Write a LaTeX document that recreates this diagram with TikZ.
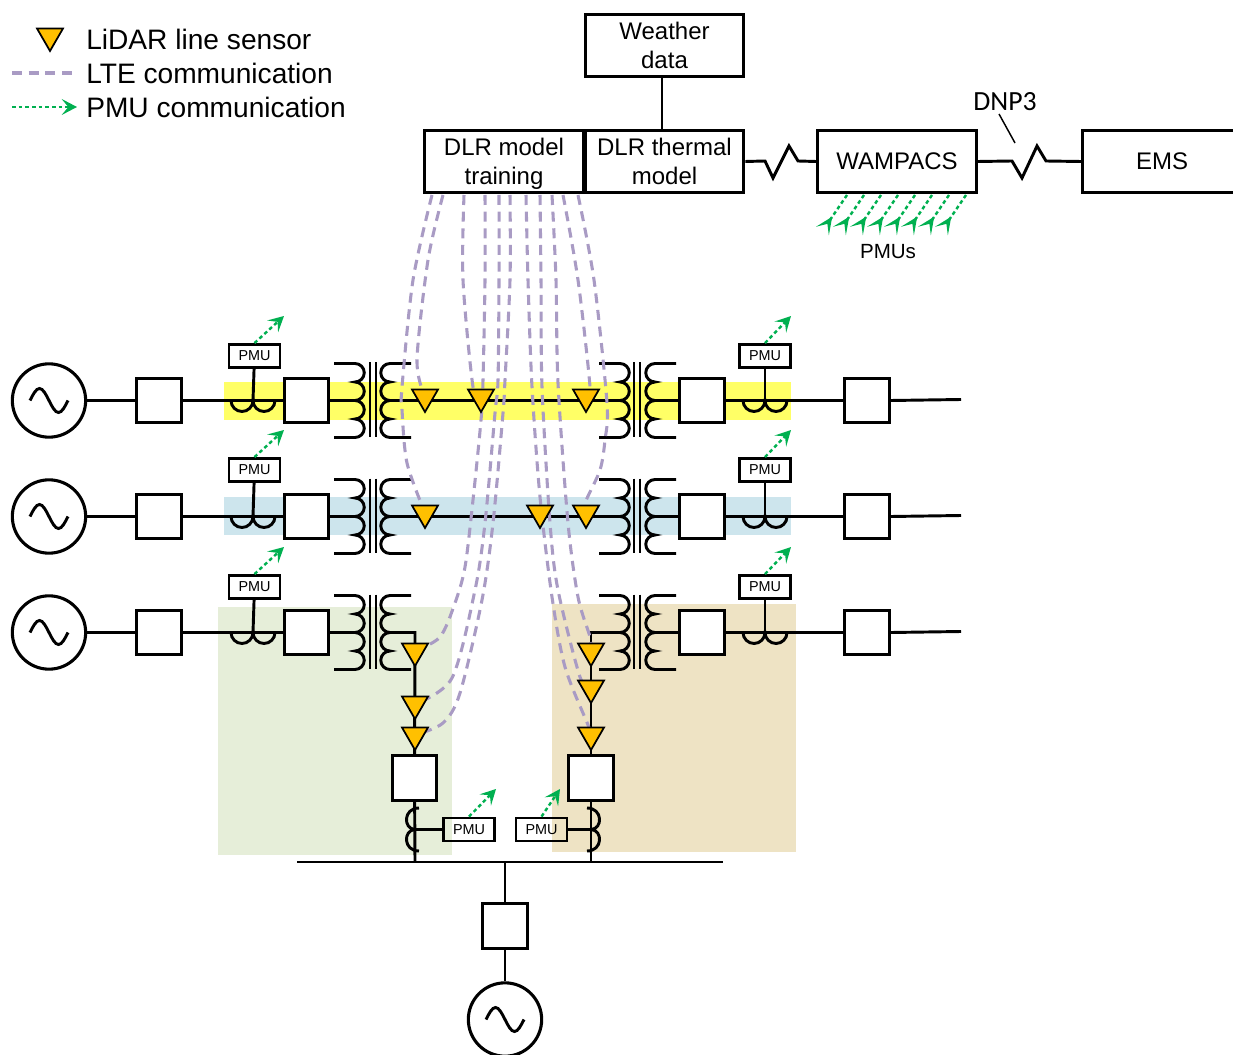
\documentclass[tikz,border=0pt]{standalone}
\usepackage{fontspec}
\setmainfont{Liberation Sans}
\newfontfamily\dnpfont{Carlito}
\usetikzlibrary{arrows.meta,shapes.geometric}
\definecolor{ltecol}{HTML}{A99BC4}
\definecolor{pmucol}{HTML}{00B050}
\definecolor{sensorcol}{HTML}{FFC000}
\definecolor{rowone}{HTML}{FFFF66}
\definecolor{rowtwo}{HTML}{CDE5ED}
\definecolor{areaone}{HTML}{E6EED9}
\definecolor{areatwo}{HTML}{EEE3C4}
\pgfdeclarelayer{sensorlayer}
\pgfsetlayers{main,sensorlayer}
\tikzset{
  wire/.style={line width=2.2bp,black},
  brk/.style={draw,line width=2.3bp,fill=white,minimum size=33.5bp,inner sep=0pt},
  gen/.style={circle,draw,line width=2.3bp,fill=white,minimum size=55bp,inner sep=0pt},
  ctl/.style={draw,line width=2.2bp,minimum width=119bp,minimum height=46.5bp,inner sep=0pt,align=center,font=\fontsize{18bp}{21.5bp}\selectfont},
  pmubox/.style={draw,line width=1.9bp,minimum width=38bp,minimum height=17.5bp,inner sep=0pt,font=\fontsize{10.8bp}{12bp}\selectfont},
  sensor/.style={regular polygon,regular polygon sides=3,shape border rotate=180,draw,line width=1.3bp,fill=sensorcol,minimum size=22.5bp,inner sep=0pt},
  ltelink/.style={ltecol,line width=2.3bp,dash pattern=on 7.5bp off 5bp},
  pmulink/.style={pmucol,line width=1.8bp,dash pattern=on 2.8bp off 2.2bp},
  pmuto/.style={pmulink,-{Stealth[length=11.5bp,width=12bp,inset=5bp]}},
  pmufrom/.style={pmulink,-{Stealth[reversed,length=13bp,width=11.5bp,inset=6.5bp]}},
  leg/.style={anchor=west,inner sep=0pt,font=\fontsize{21.1bp}{24bp}\selectfont},
  coil/.pic={\draw[wire] (-21,-37) -- (0,-37)
    arc[start angle=-90,end angle=90,radius=9.25]
    arc[start angle=-90,end angle=90,radius=9.25]
    arc[start angle=-90,end angle=90,radius=9.25]
    arc[start angle=-90,end angle=90,radius=9.25] -- (-21,37);},
  ctarc/.pic={\draw[wire] (-22,0) arc[start angle=180,end angle=0,radius=11]
    arc[start angle=180,end angle=0,radius=11];}
}
\begin{document}
\begin{tikzpicture}[x=0.75bp,y=-0.75bp]
  \useasboundingbox (0,0) rectangle (1233,1055);
  \clip (0,0) rectangle (1233,1055);
  % highlighted areas
  \fill[rowone] (224,382) rectangle (791,420);
  \fill[rowtwo] (224,497) rectangle (791,535);
  \fill[areaone] (218,607) rectangle (452,855);
  \fill[areatwo] (552,604) rectangle (796,852);
  % legend
  \node[sensor] (legsensor) at (50,36) {};
  \node[leg] (legone) at (86,39) {LiDAR line sensor};
  \node[leg] (legtwo) at (86,73) {LTE communication};
  \node[leg] (legthree) at (86,107) {PMU communication};
  \coordinate (ltea) at (12,73);
  \coordinate (lteb) at (76,73);
  \coordinate (pmua) at (12,107);
  \coordinate (pmub) at (77,107);
  \draw[ltelink] (ltea) -- (lteb);
  \draw[pmuto] (pmua) -- (pmub);
  % control room
  \node[ctl,minimum height=47bp] (weather) at (664.5,45.5) {Weather\\data};
  \node[ctl] (train) at (504,161.5) {DLR model\\\smash{training}};
  \node[ctl] (thermal) at (664.5,161.5) {DLR thermal\\model};
  \node[ctl] (wampacs) at (897,161.5) {WAMPACS};
  \node[ctl,minimum width=130bp,anchor=west] (ems) at (1081,161.5) {};
  \node[font=\fontsize{18bp}{21bp}\selectfont] (emstext) at (1162,161) {EMS};
  \draw[wire] (weather.south -| 662,0) -- (thermal.north -| 662,0);
  \draw[wire] (thermal.east) -- (765,161) -- (773,178) -- (789,146) -- (798,161) -- (wampacs.west);
  \draw[wire] (wampacs.east) -- (1012,161) -- (1022,178) -- (1037,146) -- (1046,161) -- (ems.west);
  \node[font=\dnpfont\fontsize{20.8bp}{24bp}\selectfont] (dnp) at (1005,102) {DNP3};
  \coordinate (dnptick) at (1015,143);
  \draw[line width=1.1bp] (999,114) -- (dnptick);
  \node[font=\fontsize{15.4bp}{18bp}\selectfont] (pmus) at (888,252) {PMUs};
  % PMU arrows into WAMPACS
  \foreach \x [evaluate=\x as \e using \x-24.5] in {847,864,881,898,915,932,949,966} {
    \coordinate (wamp\x) at (\x,195);
    \coordinate (far\x) at (\e,231);
    \draw[pmufrom] (wamp\x) -- (far\x);
  }
  % three lines
  \foreach \r/\y/\p in {1/400.5/356,2/516.5/470,3/632.5/587} {
    \node[gen] (gen\r) at (49,\y) {};
    \node[brk] (brka\r) at (159,\y) {};
    \node[brk] (brkb\r) at (306.5,\y) {};
    \node[brk] (brkc\r) at (702,\y) {};
    \node[brk] (brkd\r) at (867,\y) {};
    \node[pmubox] (pmul\r) at (254.5,\p) {PMU};
    \node[pmubox] (pmur\r) at (765,\p) {PMU};
    \coordinate (tfa\r) at (355,\y);
    \coordinate (tfb\r) at (390,\y);
    \coordinate (tfc\r) at (620,\y);
    \coordinate (tfd\r) at (655,\y);
    \coordinate (ctl\r) at (253,\y);
    \coordinate (ctr\r) at (765,\y);
    \coordinate (lineend\r) at (961,\y-1);
    \draw[wire] (gen\r) -- (brka\r);
    \draw[wire] (brka\r) -- (brkb\r);
    \draw[wire] (brkb\r) -- (tfa\r);
    \draw[wire] (tfd\r) -- (brkc\r);
    \draw[wire] (brkc\r) -- (brkd\r);
    \draw[wire] (brkd\r.east) -- (lineend\r);
    \draw[wire] (gen\r.center) ++(-19,0) sin ++(9.5,-12) cos ++(9.5,12) sin ++(9.5,12) cos ++(9.5,-12);
    \draw[wire] (pmul\r) -- (ctl\r);
    \draw[wire] (pmur\r) -- (ctr\r);
    \pic at (ctl\r) {ctarc};
    \pic at (ctr\r) {ctarc};
    \pic at (tfa\r) {coil};
    \pic[xscale=-1] at (tfb\r) {coil};
    \pic at (tfc\r) {coil};
    \pic[xscale=-1] at (tfd\r) {coil};
    \draw[wire,line width=1.7bp] (370,\y-38) -- (370,\y+36);
    \draw[wire,line width=1.7bp] (376,\y-38) -- (376,\y+36);
    \draw[wire,line width=1.7bp] (634,\y-38) -- (634,\y+36);
    \draw[wire,line width=1.7bp] (640,\y-38) -- (640,\y+36);
    \coordinate (headl\r) at (284,\p-40);
    \coordinate (headr\r) at (791,\p-40);
    \draw[pmuto] (pmul\r.north) -- (headl\r);
    \draw[pmuto] (pmur\r.north) -- (headr\r);
    \node[brk] at (brka\r) {};
    \node[brk] at (brkb\r) {};
    \node[brk] at (brkc\r) {};
    \node[brk] at (brkd\r) {};
  }
  \draw[wire] (tfb1) -- (tfc1);
  \draw[wire] (tfb2) -- (tfc2);
  % bus and the lower generator
  \coordinate (busl) at (297,862);
  \coordinate (busr) at (723,862);
  \coordinate (busm) at (505,862);
  \coordinate (busa) at (415,862);
  \coordinate (busb) at (591,862);
  \coordinate (cola) at (415,632.5);
  \coordinate (colb) at (591,632.5);
  \node[brk] (brkbus) at (505,926) {};
  \node[gen] (genbus) at (505,1019.5) {};
  \node[brk] (brke) at (414.5,778) {};
  \node[brk] (brkf) at (591,778) {};
  \node[pmubox] (pmue) at (469,829.5) {PMU};
  \node[pmubox] (pmuf) at (541.5,829.5) {PMU};
  \draw[wire] (busl) -- (busr);
  \draw[wire] (busm) -- (brkbus);
  \draw[wire] (brkbus) -- (genbus);
  \draw[wire] (genbus.center) ++(-19,0) sin ++(9.5,-12) cos ++(9.5,12) sin ++(9.5,12) cos ++(9.5,-12);
  \draw[wire] (tfb3) -- (cola) -- (brke);
  \draw[wire] (tfc3) -- (colb) -- (brkf);
  \draw[wire] (brke) -- (busa);
  \draw[wire] (brkf) -- (busb);
  \node[brk] at (brke) {};
  \node[brk] at (brkf) {};
  \node[brk] at (brkbus) {};
  \coordinate (cte) at (415,829.5);
  \coordinate (ctf) at (591,829.5);
  \draw[wire] (pmue) -- (cte);
  \draw[wire] (pmuf) -- (ctf);
  \draw[wire] (419,808) .. controls (403,808) and (403,829) .. (cte) .. controls (403,830) and (403,851) .. (419,851);
  \draw[wire] (587,808) .. controls (603,808) and (603,829) .. (ctf) .. controls (603,830) and (603,851) .. (587,851);
  \coordinate (heade) at (496,789);
  \coordinate (headf) at (560,789);
  \draw[pmuto] (pmue.north) -- (heade);
  \draw[pmuto] (pmuf.north) -- (headf);
  % LiDAR sensors
  \begin{pgfonlayer}{sensorlayer}
    \foreach \n/\x/\y in {sa/425/397,sb/481/397,sc/586/397,sd/425/513,se/540/513,sf/586/513,
      sg/415/651,sh/415/704,si/415/735,sj/591/651,sk/591/688,sl/591/735}
      \node[sensor] (\n) at (\x,\y) {};
  \end{pgfonlayer}
  % LTE links
  \foreach \n/\x in {f/432,g/443,h/464,i/485,j/499,k/510,a/526,b/540,c/552,d/563,e/578}
    \coordinate (lte\n) at (\x,195);
  \draw[ltelink] plot[smooth] coordinates {(ltef) (413,280) (402,387) (402,410) (407,463) (sd)};
  \draw[ltelink] plot[smooth] coordinates {(lteg) (428,260) (417,360) (sa)};
  \draw[ltelink] plot[smooth] coordinates {(lteh) (463,280) (473,387) (sb)};
  \draw[ltelink] plot[smooth] coordinates {(ltei) (485,280) (483,380) (481,420) (473,500) (465,567) (455,603) (440,637) (sg)};
  \draw[ltelink] plot[smooth] coordinates {(ltej) (499,280) (498,380) (495,413) (485,523) (475,590) (452,678) (sh)};
  \draw[ltelink] plot[smooth] coordinates {(ltek) (510,280) (505,380) (503,413) (493,523) (482,600) (460,693) (443,723) (si)};
  \draw[ltelink] plot[smooth] coordinates {(ltea) (528,280) (532,387) (540,497) (552,597) (565,667) (588,725) (sl)};
  \draw[ltelink] plot[smooth] coordinates {(lteb) (541,280) (542,387) (550,523) (558,590) (580,677) (sk)};
  \draw[ltelink] plot[smooth] coordinates {(ltec) (556,280) (558,383) (568,523) (578,597) (590,637) (sj)};
  \draw[ltelink] plot[smooth] coordinates {(lted) (578,280) (590,387) (sc)};
  \draw[ltelink] plot[smooth] coordinates {(ltee) (594,280) (607,403) (605,440) (600,470) (585,503) (sf)};
\end{tikzpicture}
\end{document}
